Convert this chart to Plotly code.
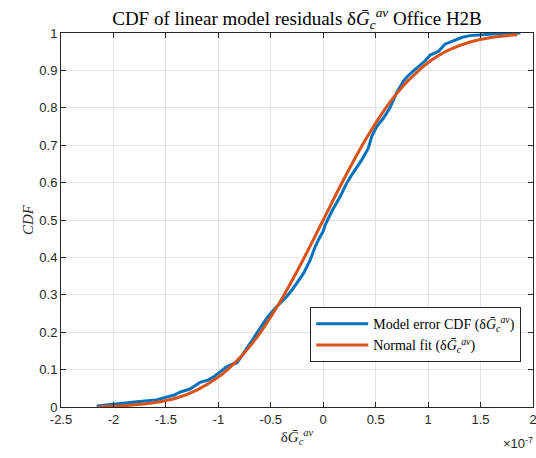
import plotly.graph_objects as go

# Empirical CDF of model residuals (x in units of 1e-7)
emp_x = [-2.16, -2.0, -1.905, -1.75, -1.59, -1.49, -1.42, -1.365, -1.27, -1.174,
         -1.10, -1.047, -0.98, -0.919, -0.86, -0.824, -0.792, -0.73, -0.665, -0.60,
         -0.537, -0.458, -0.40, -0.346, -0.30, -0.251, -0.188, -0.124, -0.076, -0.04,
         0.0, 0.019, 0.05, 0.08, 0.16, 0.223, 0.27, 0.334, 0.366, 0.43,
         0.462, 0.51, 0.573, 0.636, 0.67, 0.70, 0.766, 0.80, 0.86, 0.92,
         0.97, 1.02, 1.10, 1.16, 1.24, 1.32, 1.40, 1.53, 1.72, 1.88]
emp_cdf = [0.003, 0.008, 0.012, 0.015, 0.019, 0.026, 0.032, 0.040, 0.048, 0.066,
           0.072, 0.080, 0.094, 0.108, 0.115, 0.118, 0.130, 0.156, 0.184, 0.212,
           0.238, 0.264, 0.280, 0.296, 0.312, 0.331, 0.357, 0.393, 0.429, 0.450,
           0.470, 0.487, 0.505, 0.522, 0.562, 0.598, 0.620, 0.647, 0.660, 0.692,
           0.723, 0.750, 0.772, 0.800, 0.820, 0.840, 0.872, 0.883, 0.899, 0.914,
           0.925, 0.941, 0.951, 0.970, 0.978, 0.988, 0.993, 0.996, 0.999, 1.0]

# Normal fit curve
fit_x = [-2.15, -2.0, -1.8, -1.6, -1.4, -1.2, -1.0, -0.9, -0.8, -0.7, -0.6, -0.4, -0.2,
         0.0, 0.2, 0.4, 0.6, 0.7, 0.8, 0.9, 1.0, 1.1, 1.2, 1.4, 1.6, 1.85]
fit_cdf = [0.001, 0.002, 0.006, 0.012, 0.024, 0.046, 0.080, 0.103, 0.130, 0.162, 0.199,
           0.287, 0.389, 0.500, 0.611, 0.713, 0.801, 0.838, 0.870, 0.897, 0.921, 0.940,
           0.955, 0.976, 0.988, 0.995]

x_ticks = [-2.5, -2, -1.5, -1, -0.5, 0, 0.5, 1, 1.5, 2]
x_tick_labels = ["-2.5", "-2", "-1.5", "-1", "-0.5", "0", "0.5", "1", "1.5", "2"]
y_ticks = [0, 0.1, 0.2, 0.3, 0.4, 0.5, 0.6, 0.7, 0.8, 0.9, 1]
y_tick_labels = ["0", "0.1", "0.2", "0.3", "0.4", "0.5", "0.6", "0.7", "0.8", "0.9", "1"]

sym = "δ<i>G\u0304</i><sub><i>c</i></sub><sup><i>av</i></sup>"

fig = go.Figure()
fig.add_trace(go.Scatter(x=emp_x, y=emp_cdf, mode="lines",
                         line=dict(color="#0072BD", width=3),
                         name="Model error CDF (" + sym + ")"))
fig.add_trace(go.Scatter(x=fit_x, y=fit_cdf, mode="lines",
                         line=dict(color="#D95319", width=3, shape="spline"),
                         name="Normal fit (" + sym + ")"))

axis_common = dict(showline=True, linecolor="#262626", linewidth=1, mirror="ticks",
                   ticks="inside", ticklen=5, tickcolor="#262626", automargin=False,
                   ticklabeloverflow="allow",
                   showgrid=True, gridcolor="#e3e3e3", gridwidth=1, zeroline=False,
                   tickfont=dict(family="Liberation Sans, Arial", size=13, color="#262626"))

fig.update_xaxes(range=[-2.5, 2], tickvals=x_ticks, ticktext=x_tick_labels,
                 title=dict(text=sym, font=dict(family="Liberation Serif, serif", size=15, color="#262626"),
                            standoff=2),
                 **axis_common)
fig.update_yaxes(range=[0, 1], tickvals=y_ticks, ticktext=y_tick_labels,
                 title=dict(text="<i>CDF</i>", font=dict(family="Liberation Serif, serif", size=15, color="#262626"),
                            standoff=2),
                 **axis_common)

fig.update_layout(
    width=536, height=458,
    margin=dict(l=61, r=3, t=33, b=51, autoexpand=False),
    paper_bgcolor="white", plot_bgcolor="white",
    title=dict(text="CDF of linear model residuals " + sym + " Office H2B",
               x=0.5, xref="paper", y=0.974, yanchor="top",
               font=dict(family="Liberation Serif, serif", size=19, color="black")),
    legend=dict(x=0.975, y=0.267, xanchor="right", yanchor="top",
                bgcolor="white", bordercolor="#262626", borderwidth=1,
                font=dict(family="Liberation Serif, serif", size=14, color="black"),
                tracegroupgap=0, itemwidth=52),
    showlegend=True,
)

fig.add_annotation(text="×10<sup>-7</sup>", xref="paper", yref="paper",
                   x=1.004, y=-0.07, xanchor="right", yanchor="top", showarrow=False,
                   font=dict(family="Liberation Sans, Arial", size=13, color="#262626"))

# Remove the browser's default body margin so the 536x458 figure fills the window exactly
fig.write_html("out.html",
               config={"displayModeBar": False},
               post_script="document.body.style.margin='0';document.body.style.overflow='hidden';")
